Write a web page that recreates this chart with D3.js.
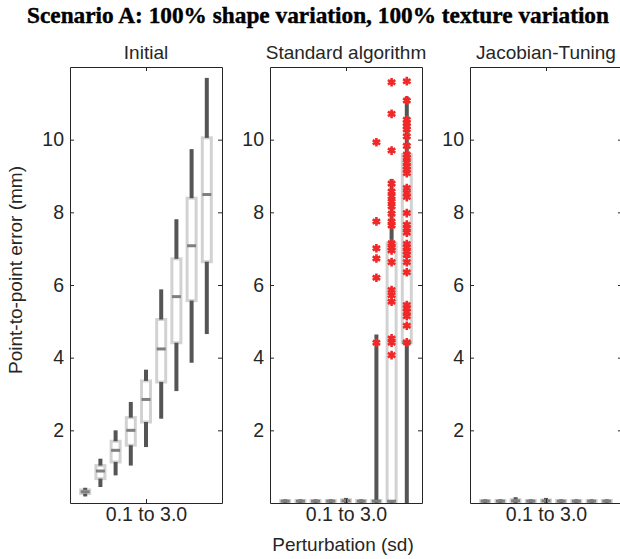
<!DOCTYPE html>
<html lang="en">
<head>
  <meta charset="UTF-8">
  <title>Scenario A boxplots</title>
  <script src="https://d3js.org/d3.v7.min.js"></script>
  <style>
    body { margin: 0; background: white; }
    svg text { font-family: "Liberation Sans", Arial, sans-serif; fill: #262626; }
    .axis path, .axis line { stroke: #262626; stroke-width: 1; }
    .axis text { font-size: 19.5px; fill: #262626; }
  </style>
</head>
<body>
  <div id="chart"></div>

  <script>
    // values
    const panelTitles = ["Initial", "Standard algorithm", "Jacobian-Tuning"];
    const positions = [1, 2, 3, 4, 5, 6, 7, 8, 9];
    const yTicks = [2, 4, 6, 8, 10];
    const xTickLabel = "0.1 to 3.0";

    // Initial
    const initLo  = [0.18, 0.44, 0.76, 1.03, 1.54, 2.32, 3.08, 3.86, 4.65];
    const initQ1  = [0.26, 0.67, 1.13, 1.59, 2.23, 3.33, 4.41, 5.57, 6.64];
    const initMed = [0.31, 0.88, 1.45, 2.00, 2.85, 4.24, 5.68, 7.08, 8.49];
    const initQ3  = [0.36, 1.03, 1.70, 2.35, 3.36, 5.05, 6.72, 8.39, 10.05];
    const initHi  = [0.42, 1.22, 2.00, 2.78, 3.67, 5.88, 7.81, 9.74, 11.70];

    // Standard algorithm
    const stdLo  = [0, 0, 0, 0, 0, 0, 0, 0, 0];
    const stdQ1  = [0.03, 0.03, 0.03, 0.03, 0.03, 0.03, 0.03, 0.03, 4.41];
    const stdMed = [0.05, 0.05, 0.05, 0.05, 0.06, 0.05, 0.05, 0.05, 4.42];
    const stdQ3  = [0.07, 0.07, 0.07, 0.07, 0.09, 0.07, 0.07, 7.15, 9.59];
    const stdHi  = [0.10, 0.10, 0.10, 0.10, 0.14, 0.10, 4.64, 8.92, 11.19];
    const stdOut7 = [4.41, 6.20, 6.73, 7.01, 7.75, 9.93];
    const stdOut8 = [4.07, 4.41, 4.53, 5.54, 5.72, 5.86, 6.63, 6.95, 7.03, 7.15, 7.64,
                     7.75, 7.96, 8.16, 8.30, 8.44, 8.57, 8.79, 9.70, 10.71, 11.58];
    const stdOut9 = [4.42, 4.88, 5.14, 5.26, 5.36, 5.45, 6.35, 6.63, 6.83, 6.92, 7.04,
                     7.13, 7.44, 7.56, 7.66, 7.98, 8.42, 8.53, 8.67, 9.08, 9.17, 9.26,
                     9.37, 9.50, 9.59, 9.83, 10.09, 10.28, 10.37, 10.46, 10.55, 11.08, 11.61];

    // Jacobian-Tuning
    const jtLo  = [0, 0, 0, 0, 0, 0, 0, 0, 0];
    const jtQ1  = [0.03, 0.03, 0.03, 0.03, 0.03, 0.03, 0.03, 0.03, 0.03];
    const jtMed = [0.05, 0.05, 0.06, 0.05, 0.06, 0.05, 0.05, 0.05, 0.05];
    const jtQ3  = [0.07, 0.07, 0.09, 0.07, 0.08, 0.07, 0.07, 0.07, 0.07];
    const jtHi  = [0.10, 0.10, 0.16, 0.10, 0.14, 0.10, 0.10, 0.10, 0.10];

    const panels = [
      { lo: initLo, q1: initQ1, med: initMed, q3: initQ3, hi: initHi, out: [] },
      { lo: stdLo, q1: stdQ1, med: stdMed, q3: stdQ3, hi: stdHi,
        out: [[7, stdOut7], [8, stdOut8], [9, stdOut9]] },
      { lo: jtLo, q1: jtQ1, med: jtMed, q3: jtQ3, hi: jtHi, out: [] }
    ];

    const W = 620, H = 559;
    const plotTop = 67, plotBottom = 503, panelW = 152;
    const lefts = [70, 270, 470];

    const svg = d3.select("#chart").append("svg")
      .attr("width", W).attr("height", H);

    const y = d3.scaleLinear().domain([0, 12]).range([plotBottom, plotTop]);

    panels.forEach((p, i) => {
      const left = lefts[i];
      const x = d3.scaleLinear().domain([0, 10]).range([left, left + panelW]);
      const g = svg.append("g");

      positions.forEach((pos, j) => {
        const cx = x(pos);
        // box q1..q3
        g.append("rect")
          .attr("x", cx - 4.5)
          .attr("width", 9)
          .attr("y", y(p.q3[j]))
          .attr("height", Math.max(0, y(p.q1[j]) - y(p.q3[j])))
          .attr("fill", "white")
          .attr("stroke", "#d2d2d2")
          .attr("stroke-width", 3);
        // whiskers
        g.append("line")
          .attr("x1", cx).attr("x2", cx)
          .attr("y1", y(p.q3[j])).attr("y2", y(p.hi[j]))
          .attr("stroke", "#555").attr("stroke-width", 4);
        g.append("line")
          .attr("x1", cx).attr("x2", cx)
          .attr("y1", y(p.q1[j])).attr("y2", y(p.lo[j]))
          .attr("stroke", "#555").attr("stroke-width", 4);
        // median
        g.append("line")
          .attr("x1", cx - 4.5).attr("x2", cx + 4.5)
          .attr("y1", y(p.med[j])).attr("y2", y(p.med[j]))
          .attr("stroke", "#7f7f7f").attr("stroke-width", 3);
      });

      // outliers, MATLAB-style '*'
      const star = d3.symbol(d3.symbolAsterisk, 52);
      p.out.forEach(([pos, vals]) => {
        vals.forEach(v => {
          g.append("path")
            .attr("d", star)
            .attr("transform", `translate(${x(pos)},${y(v)})`)
            .attr("fill", "none")
            .attr("stroke", "#f02828")
            .attr("stroke-width", 2.6);
        });
      });

      // axes (box on, ticks inward)
      svg.append("g").attr("class", "axis")
        .attr("transform", `translate(${left},0)`)
        .call(d3.axisLeft(y).tickValues(yTicks).tickSizeInner(-4).tickSizeOuter(0).tickPadding(6));
      svg.append("g").attr("class", "axis")
        .attr("transform", `translate(${left + panelW},0)`)
        .call(d3.axisRight(y).tickValues(yTicks).tickSizeInner(-4).tickSizeOuter(0).tickFormat(""));
      svg.append("g").attr("class", "axis")
        .attr("transform", `translate(0,${plotBottom})`)
        .call(d3.axisBottom(x).tickValues([5]).tickSizeInner(-4).tickSizeOuter(0)
          .tickPadding(4).tickFormat(() => xTickLabel));
      svg.append("g").attr("class", "axis")
        .attr("transform", `translate(0,${plotTop})`)
        .call(d3.axisTop(x).tickValues([5]).tickSizeInner(-4).tickSizeOuter(0).tickFormat(""));

      svg.append("text")
        .attr("x", left + panelW / 2)
        .attr("y", 59)
        .attr("text-anchor", "middle")
        .style("font-size", "19px")
        .text(panelTitles[i]);
    });

    // y label
    svg.append("text")
      .attr("transform", "translate(22,270) rotate(-90)")
      .attr("text-anchor", "middle")
      .style("font-size", "19px")
      .text("Point-to-point error (mm)");

    // x label
    svg.append("text")
      .attr("x", 343)
      .attr("y", 551)
      .attr("text-anchor", "middle")
      .style("font-size", "19px")
      .text("Perturbation (sd)");

    // main title, fitted to the width it takes in the picture
    const title = svg.append("text")
      .attr("x", 318)
      .attr("y", 23)
      .attr("text-anchor", "middle")
      .style("font-family", "'Liberation Serif', 'DejaVu Serif', serif")
      .style("font-weight", "bold")
      .style("font-size", "20px")
      .style("fill", "#000")
      .style("stroke", "#000")
      .style("stroke-width", 0.4)
      .text("Scenario A: 100% shape variation, 100% texture variation");
    const tw = title.node().getComputedTextLength();
    title.style("font-size", (20 * 582 / tw).toFixed(2) + "px");
  </script>
</body>
</html>
